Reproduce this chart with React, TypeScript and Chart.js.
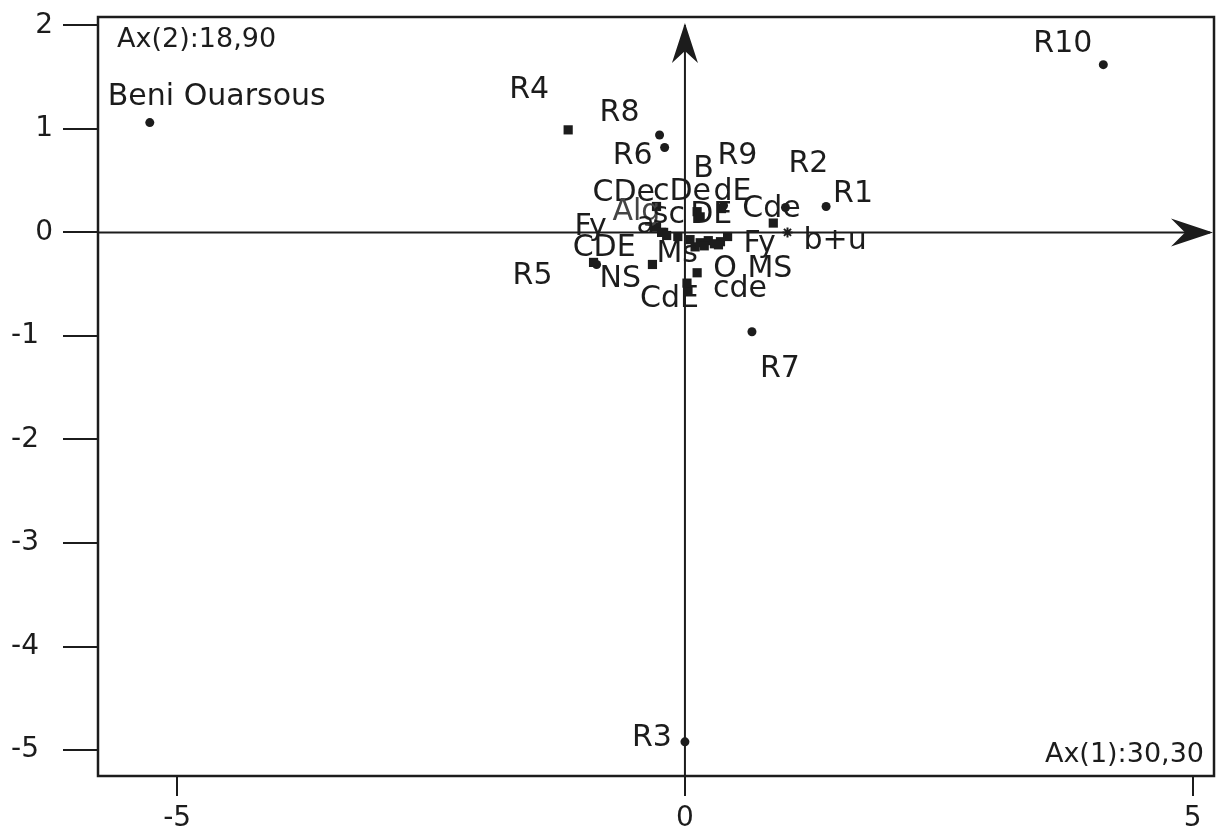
import React, { useEffect, useRef } from "react";
import { Chart, registerables } from "chart.js";

Chart.register(...registerables);

// ---- data ----
const rowNames = ["Beni Ouarsous", "R1", "R2", "R3", "R5", "R6", "R7", "R8", "R9", "R10"];
const rowX = [-5.27, 1.39, 0.99, 0.0, -0.87, -0.2, 0.66, -0.25, 0.38, 4.12];
const rowY = [1.06, 0.25, 0.24, -4.92, -0.31, 0.82, -0.96, 0.94, 0.26, 1.62];

const colNames = ["R4", "CDe", "DE", "B", "dE", "cDe", "Alg", "a", "sc", "Cde", "Fy", "CDE", "Ms", "NS", "CdE", "O", "MS", "cde", "Fy", "", "", "", "", "", ""];
const colX = [-1.15, -0.28, 0.12, 0.15, 0.36, 0.05, -0.28, -0.23, -0.07, 0.87, -0.21, -0.18, -0.32, -0.9, 0.03, 0.12, 0.35, 0.02, 0.42, 0.15, 0.23, 0.29, 0.1, 0.19, 0.33];
const colY = [0.99, 0.25, 0.2, 0.15, 0.23, -0.07, 0.05, 0.0, -0.04, 0.09, 0.0, -0.03, -0.31, -0.29, -0.56, -0.39, -0.09, -0.49, -0.04, -0.1, -0.08, -0.11, -0.14, -0.13, -0.12];

const starNames = ["b+u"];
const starX = [1.01];
const starY = [0.0];

const xTicks = [-5, 0, 5];
const yTicks = [2, 1, 0, -1, -2, -3, -4, -5];
const xTitle = "Ax(1):30,30";
const yTitle = "Ax(2):18,90";

// ---- label placement (pixel offsets: text left, baseline relative to point) ----
const rowLabelOffsets: [number, number][] = [
  [-42, -18], [7, -4], [3, -36], [-53, 4], [-84, 20], [-52, 17], [8, 45], [-60, -14], [-6, -41], [-70, -13],
];
const colLabelOffsets: [number, number][] = [
  [-59, -32], [-64, -5], [-7, 11], [-7, -40], [-8, -9], [-37, -40], [-44, -7], [-25, 1], [-25, -14], [-31, -6],
  [-89, 3], [-94, 21], [4, -2], [6, 25], [-48, 17], [16, 4], [27, 35], [26, 14], [16, 15],
  [0, 0], [0, 0], [0, 0], [0, 0], [0, 0], [0, 0],
];
const starLabelOffsets: [number, number][] = [[16, 17]];

const INK = "#1c1c1c";
const LABEL_FONT = "30px 'DejaVu Sans'";
const TITLE_FONT = "27px 'DejaVu Sans'";

const overlay = {
  id: "overlay",
  beforeDatasetsDraw(chart: any) {
    const { ctx, chartArea: a, scales } = chart;
    const x0 = scales.x.getPixelForValue(0);
    const y0 = scales.y.getPixelForValue(0);
    ctx.save();
    ctx.strokeStyle = INK;
    ctx.fillStyle = INK;
    ctx.lineWidth = 2;
    ctx.beginPath();
    ctx.moveTo(a.left, y0);
    ctx.lineTo(a.right - 4, y0);
    ctx.moveTo(x0, a.bottom);
    ctx.lineTo(x0, a.top + 8);
    ctx.stroke();
    const tipX = a.right - 1;
    ctx.beginPath();
    ctx.moveTo(tipX, y0);
    ctx.lineTo(tipX - 42, y0 - 14);
    ctx.lineTo(tipX - 28, y0);
    ctx.lineTo(tipX - 42, y0 + 14);
    ctx.closePath();
    ctx.fill();
    const tipY = a.top + 6;
    ctx.beginPath();
    ctx.moveTo(x0, tipY);
    ctx.lineTo(x0 - 13, tipY + 40);
    ctx.lineTo(x0, tipY + 28);
    ctx.lineTo(x0 + 13, tipY + 40);
    ctx.closePath();
    ctx.fill();
    ctx.lineWidth = 2.5;
    ctx.strokeRect(a.left, a.top, a.right - a.left, a.bottom - a.top);
    ctx.restore();
  },
  afterDatasetsDraw(chart: any) {
    const { ctx, chartArea: a, scales } = chart;
    ctx.save();
    ctx.fillStyle = INK;
    ctx.textBaseline = "alphabetic";
    ctx.textAlign = "left";
    ctx.font = LABEL_FONT;
    const put = (names: string[], xs: number[], ys: number[], offs: [number, number][]) => {
      names.forEach((n, i) => {
        if (!n) return;
        const px = scales.x.getPixelForValue(xs[i]);
        const py = scales.y.getPixelForValue(ys[i]);
        ctx.fillStyle = n === "Alg" ? "#444" : INK;
        ctx.fillText(n, px + offs[i][0], py + offs[i][1]);
      });
    };
    put(rowNames, rowX, rowY, rowLabelOffsets);
    put(colNames, colX, colY, colLabelOffsets);
    put(starNames, starX, starY, starLabelOffsets);
    ctx.fillStyle = INK;
    ctx.font = TITLE_FONT;
    ctx.textAlign = "left";
    ctx.fillText(yTitle, a.left + 19, a.top + 30);
    ctx.textAlign = "right";
    ctx.fillText(xTitle, a.right - 10, a.bottom - 14);
    ctx.restore();
  },
};

const noPad = (s: any) => {
  s.paddingTop = 0;
  s.paddingBottom = 0;
  s.paddingLeft = 0;
  s.paddingRight = 0;
};

export default function App() {
  const ref = useRef<HTMLCanvasElement | null>(null);
  useEffect(() => {
    if (!ref.current) return;
    const toPts = (xs: number[], ys: number[]) => xs.map((x, i) => ({ x, y: ys[i] }));
    const chart = new Chart(ref.current, {
      type: "scatter",
      data: {
        datasets: [
          {
            label: "cols",
            data: toPts(colX, colY),
            pointStyle: "rect",
            pointRadius: 6.5,
            backgroundColor: INK,
            borderColor: INK,
            borderWidth: 0,
          },
          {
            label: "rows",
            data: toPts(rowX, rowY),
            pointStyle: "circle",
            pointRadius: 4.5,
            backgroundColor: INK,
            borderColor: INK,
            borderWidth: 0,
          },
          {
            label: "star",
            data: toPts(starX, starY),
            pointStyle: "star",
            pointRadius: 5,
            backgroundColor: INK,
            borderColor: INK,
            borderWidth: 2,
          },
        ],
      },
      options: {
        animation: false,
        responsive: false,
        devicePixelRatio: 1,
        layout: { padding: { top: 17, right: 7, left: 0, bottom: 0 } },
        plugins: { legend: { display: false }, tooltip: { enabled: false } },
        scales: {
          x: {
            type: "linear",
            min: -5.78,
            max: 5.21,
            border: { display: false },
            grid: { drawOnChartArea: false, drawTicks: true, tickLength: 20, color: INK, lineWidth: 2 },
            ticks: {
              padding: 9,
              color: INK,
              font: { family: "'DejaVu Sans'", size: 28, lineHeight: 1 },
              callback: (v: any) => String(v),
            },
            afterBuildTicks: (s: any) => {
              s.ticks = xTicks.map((v) => ({ value: v }));
            },
            afterFit: (s: any) => {
              s.height = 56;
              noPad(s);
            },
          },
          y: {
            type: "linear",
            min: -5.25,
            max: 2.08,
            border: { display: false },
            grid: { drawOnChartArea: false, drawTicks: true, tickLength: 35, color: INK, lineWidth: 2 },
            ticks: {
              padding: 10,
              color: INK,
              font: { family: "'DejaVu Sans'", size: 28, lineHeight: 1 },
              callback: (v: any) => (Number(v) < 0 ? String(v) + "\u2002" : String(v)),
            },
            afterBuildTicks: (s: any) => {
              s.ticks = yTicks.map((v) => ({ value: v }));
            },
            afterFit: (s: any) => {
              s.width = 98;
              noPad(s);
            },
          },
        },
      },
      plugins: [overlay],
    });
    return () => chart.destroy();
  }, []);
  return (
    <div style={{ position: "absolute", left: 0, top: 0, width: 1221, height: 832, background: "#fff" }}>
      <canvas ref={ref} width={1221} height={832} style={{ display: "block", width: 1221, height: 832 }} />
    </div>
  );
}
